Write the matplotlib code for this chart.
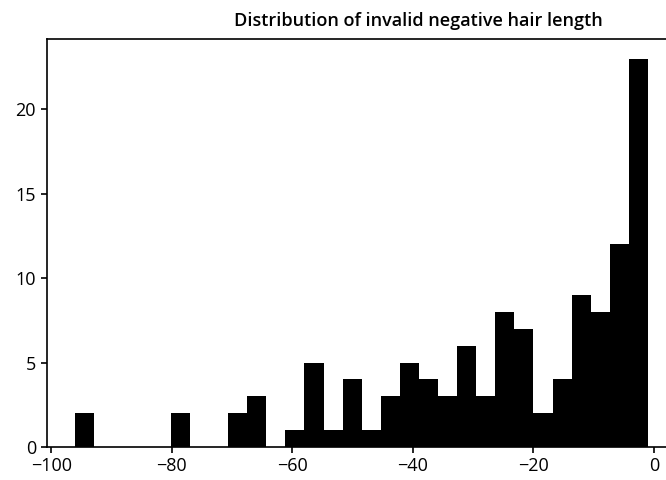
import numpy as np
import matplotlib
matplotlib.use('Agg')
from matplotlib import pyplot as plt

# 30 equal bins between the min and max of the invalid (negative) hair lengths
bin_min = -96.0
bin_max = -1.0
n_bins = 30
counts = [2, 0, 0, 0, 0, 2, 0, 0, 2, 3,
          0, 1, 5, 1, 4, 1, 3, 5, 4, 3,
          6, 3, 8, 7, 2, 4, 9, 8, 12, 23]
x_ticks = [-100, -80, -60, -40, -20, 0]
y_ticks = [0, 5, 10, 15, 20]

plt.rcParams['font.family'] = ['Open Sans', 'DejaVu Sans']

edges = np.linspace(bin_min, bin_max, n_bins + 1)
centers = (edges[:-1] + edges[1:]) / 2

fig = plt.figure(figsize=(6.66, 4.8), dpi=100)
ax = fig.add_axes([0.0706, 0.069, 0.935, 0.849])
ax.hist(centers, bins=edges, weights=counts, color='black', linewidth=0)

ax.set_xlim(-100.7, 2.6)
ax.set_ylim(0, 24.15)
ax.set_xticks(x_ticks)
ax.set_yticks(y_ticks)
ax.tick_params(labelsize=13, length=4, width=1.2)
ax.tick_params(axis='x', pad=3)
ax.tick_params(axis='y', pad=4)
for s in ax.spines.values():
    s.set_linewidth(1.2)
ax.spines['right'].set_visible(False)

fig.text(0.628, 0.957, 'Distribution of invalid negative hair length', ha='center', va='center',
         fontsize=13, fontweight='semibold')

fig.savefig('out.png', dpi=100)
